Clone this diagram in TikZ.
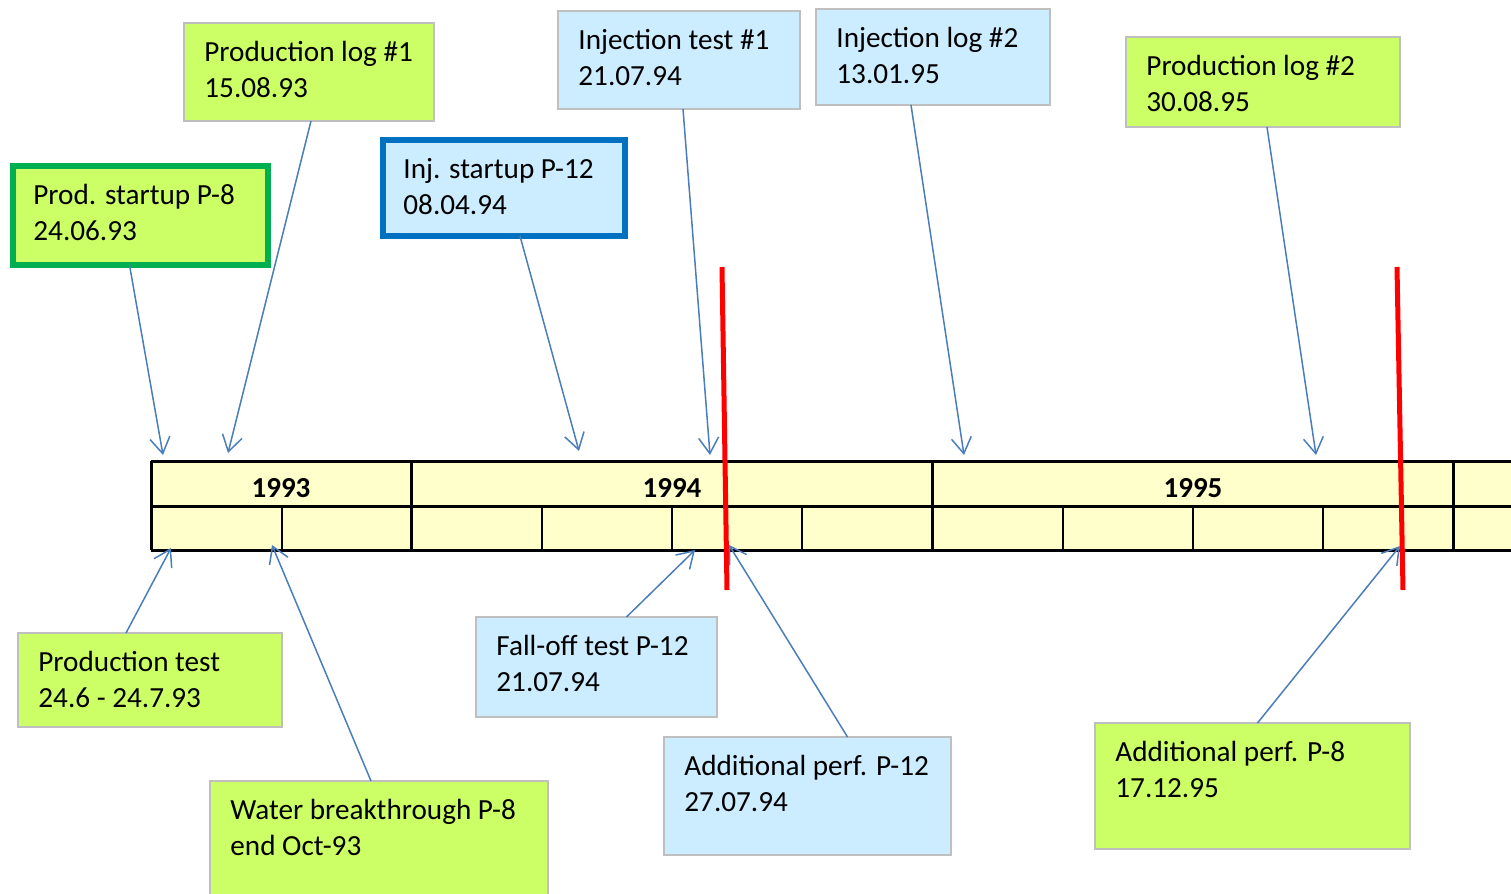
\documentclass[tikz,border=0pt]{standalone}
\usepackage{fontspec}
\setmainfont{Carlito}
\usetikzlibrary{arrows.meta}

\definecolor{prodgreen}{HTML}{CCFF66}
\definecolor{injblue}{HTML}{CCECFF}
\definecolor{boxgray}{HTML}{BFBFBF}
\definecolor{startgreen}{HTML}{00B050}
\definecolor{startblue}{HTML}{0070C0}
\definecolor{arrowblue}{HTML}{4A7EBB}
\definecolor{tableyellow}{HTML}{FFFFCC}

\def\px{0.5pt}

\begin{document}
\begin{tikzpicture}[
  x=0.5pt, y=-0.5pt,
  box/.style={
    draw=boxgray, line width=1pt,
    anchor=north west, inner sep=0pt, outer sep=0pt,
  },
  Pbox/.style={box, fill=prodgreen},
  Ibox/.style={box, fill=injblue},
  PSbox/.style={Pbox, draw=startgreen, line width=2.75pt},
  ISbox/.style={Ibox, draw=startblue, line width=2.75pt},
  txt/.style={anchor=base west, align=left, inner sep=0pt,
    font=\fontsize{14.6}{18}\selectfont},
  year/.style={font=\fontsize{14.5}{16}\selectfont\bfseries, inner sep=0pt},
  evt/.style={draw=arrowblue, line width=0.75pt,
    -{Straight Barb[length=8pt, width=10pt, line width=0.75pt]}},
  cut/.style={draw=red, line width=2.5pt},
]

\useasboundingbox (0,0) rectangle (1511,894);
\clip (0,0) rectangle (1511,894);

% ── time table ───────────────────────────────────────────
\fill[tableyellow] (151,461) rectangle (1530,550);
\foreach \y in {461,506,550}
  \draw[line width=1.5pt] (151,\y) -- (1530,\y);
\foreach \x in {151,411,932,1453}
  \draw[line width=1.5pt] (\x,461) -- (\x,550);
\foreach \x in {282,542,672,802,1063,1193,1323}
  \draw[line width=1pt] (\x,506) -- (\x,550);
\foreach \x/\yr in {281/1993, 672/1994, 1193/1995}
  \node[year] (y\yr) at (\x,488) {\yr};

% ── red cut lines ────────────────────────────────────────
\draw[cut] (722,267) -- (727,590);
\draw[cut] (1397,267) -- (1403,590);

% ── events above the table ───────────────────────────────
\node[PSbox, minimum width=255*\px, minimum height=99*\px] (pstart) at (13,166) {};
\node[txt] (pstart-t) at ([shift={(20,74.6)}]pstart.north west) {Prod. startup P-8\\24.06.93};

\node[Pbox, minimum width=250*\px, minimum height=98*\px] (plog1) at (184,23) {};
\node[txt] (plog1-t) at ([shift={(20,74.6)}]plog1.north west) {Production log \#1\\15.08.93};

\node[ISbox, minimum width=242*\px, minimum height=96*\px] (istart) at (383,140) {};
\node[txt] (istart-t) at ([shift={(20,74.6)}]istart.north west) {Inj. startup P-12\\08.04.94};

\node[Ibox, minimum width=242*\px, minimum height=98*\px] (itest1) at (558,11) {};
\node[txt] (itest1-t) at ([shift={(20,74.6)}]itest1.north west) {Injection test \#1\\21.07.94};

\node[Ibox, minimum width=234*\px, minimum height=96*\px] (ilog2) at (816,9) {};
\node[txt] (ilog2-t) at ([shift={(20,74.6)}]ilog2.north west) {Injection log \#2\\13.01.95};

\node[Pbox, minimum width=274*\px, minimum height=90*\px] (plog2) at (1126,37) {};
\node[txt] (plog2-t) at ([shift={(20,74.6)}]plog2.north west) {Production log \#2\\30.08.95};

% ── events below the table ───────────────────────────────
\node[Pbox, minimum width=264*\px, minimum height=94*\px] (ptest) at (18,633) {};
\node[txt] (ptest-t) at ([shift={(20,74.6)}]ptest.north west) {Production test\\24.6 - 24.7.93};

\node[Pbox, minimum width=338*\px, minimum height=140*\px] (water) at (210,781) {};
\node[txt] (water-t) at ([shift={(20,74.6)}]water.north west) {Water breakthrough P-8\\end Oct-93};

\node[Ibox, minimum width=241*\px, minimum height=100*\px] (falloff) at (476,617) {};
\node[txt] (falloff-t) at ([shift={(20,74.6)}]falloff.north west) {Fall-off test P-12\\21.07.94};

\node[Ibox, minimum width=287*\px, minimum height=118*\px] (perf12) at (664,737) {};
\node[txt] (perf12-t) at ([shift={(20,74.6)}]perf12.north west) {Additional perf. P-12\\27.07.94};

\node[Pbox, minimum width=315*\px, minimum height=126*\px] (perf8) at (1095,723) {};
\node[txt] (perf8-t) at ([shift={(20,74.6)}]perf8.north west) {Additional perf. P-8\\17.12.95};

% ── arrow ends on the table ──────────────────────────────
\coordinate (at-pstart)  at (163,455);
\coordinate (at-plog1)   at (228,453);
\coordinate (at-istart)  at (579,451);
\coordinate (at-itest1)  at (710,455);
\coordinate (at-ilog2)   at (964,455);
\coordinate (at-plog2)   at (1316,455);
\coordinate (at-ptest)   at (171,548);
\coordinate (at-water)   at (272,545);
\coordinate (at-falloff) at (695,550);
\coordinate (at-perf12)  at (729,545);
\coordinate (at-perf8)   at (1400,546);

% ── arrows ───────────────────────────────────────────────
\draw[evt] ([xshift=-11*\px]pstart.south) -- (at-pstart);
\draw[evt] ([xshift=2*\px]plog1.south)    -- (at-plog1);
\draw[evt] ([xshift=16*\px]istart.south)  -- (at-istart);
\draw[evt] ([xshift=4*\px]itest1.south)   -- (at-itest1);
\draw[evt] ([xshift=-22*\px]ilog2.south)  -- (at-ilog2);
\draw[evt] ([xshift=4*\px]plog2.south)    -- (at-plog2);
\draw[evt] ([xshift=-24*\px]ptest.north)  -- (at-ptest);
\draw[evt] ([xshift=-8*\px]water.north)   -- (at-water);
\draw[evt] ([xshift=30*\px]falloff.north) -- (at-falloff);
\draw[evt] ([xshift=40*\px]perf12.north)  -- (at-perf12);
\draw[evt] ([xshift=5*\px]perf8.north)    -- (at-perf8);

\end{tikzpicture}
\end{document}
